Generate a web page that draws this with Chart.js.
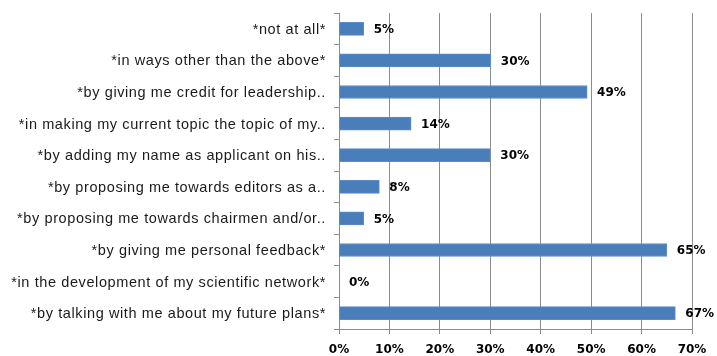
<!DOCTYPE html>
<html>
<head>
<meta charset="utf-8">
<script src="https://cdn.jsdelivr.net/npm/chart.js@4.4.1/dist/chart.umd.min.js"></script>
<style>
  html, body { margin: 0; padding: 0; background: #fff; }
  #wrap { width: 717px; height: 356px; }
</style>
</head>
<body>
<div id="wrap"><canvas id="chart" width="717" height="356"></canvas></div>
<script>
const categories = [
  '*not at all*',
  '*in ways other than the above*',
  '*by giving me credit for leadership..',
  '*in making my current topic the topic of my..',
  '*by adding my name as applicant on his..',
  '*by proposing me towards editors as a..',
  '*by proposing me towards chairmen and/or..',
  '*by giving me personal feedback*',
  '*in the development of my scientific network*',
  '*by talking with me about my future plans*'
];
const values = [4.9, 30.1, 49.2, 14.3, 30, 8, 4.9, 65, 0, 66.7];
const xTicks = [0, 10, 20, 30, 40, 50, 60, 70];

const axisGray = '#8c8c8c';

// Kategorienamen etwas gesperrt, wie im Original
const catLabels = {
  id: 'catLabels',
  afterDraw(chart) {
    const ctx = chart.ctx;
    const y = chart.scales.y;
    ctx.save();
    ctx.font = '14.5px "Liberation Sans"';
    ctx.letterSpacing = '0.6px';
    ctx.fillStyle = '#1a1a1a';
    ctx.textAlign = 'right';
    ctx.textBaseline = 'middle';
    categories.forEach((c, i) => {
      ctx.fillText(c, y.right - 13, y.getPixelForTick(i) + 1);
    });
    ctx.restore();
  }
};

// Datenbeschriftungen rechts neben den Balken
const barLabels = {
  id: 'barLabels',
  afterDatasetsDraw(chart) {
    const ctx = chart.ctx;
    const meta = chart.getDatasetMeta(0);
    ctx.save();
    ctx.font = 'bold 12px "DejaVu Sans"';
    ctx.fillStyle = '#000';
    ctx.textAlign = 'left';
    ctx.textBaseline = 'middle';
    meta.data.forEach((bar, i) => {
      ctx.fillText(Math.round(values[i]) + '%', bar.x + 10, bar.y + 1);
    });
    ctx.restore();
  }
};

new Chart(document.getElementById('chart'), {
  type: 'bar',
  data: {
    labels: categories,
    datasets: [{
      data: values,
      backgroundColor: '#4a7ebb',
      borderColor: '#5b8ccc',
      borderWidth: 1,
      barThickness: 13
    }]
  },
  options: {
    indexAxis: 'y',
    responsive: false,
    animation: false,
    layout: { padding: { left: 0, right: 25, top: 13, bottom: 0 } },
    plugins: { legend: { display: false }, tooltip: { enabled: false } },
    scales: {
      x: {
        min: 0,
        max: 70,
        afterBuildTicks(scale) {
          scale.ticks = xTicks.map((v) => ({ value: v }));
        },
        afterFit(scale) { scale.height = 27; },
        grid: { color: axisGray, lineWidth: 1, tickLength: 5, drawTicks: true },
        border: { color: axisGray },
        ticks: {
          color: '#000',
          font: { family: 'DejaVu Sans', size: 12, weight: 'bold' },
          padding: 9,
          callback: (v) => v + '%'
        }
      },
      y: {
        afterFit(scale) { scale.width = 339; },
        grid: { offset: true, drawOnChartArea: false, color: axisGray, tickLength: 5 },
        border: { color: axisGray },
        ticks: { display: false, autoSkip: false }
      }
    }
  },
  plugins: [barLabels, catLabels]
});
</script>
</body>
</html>
